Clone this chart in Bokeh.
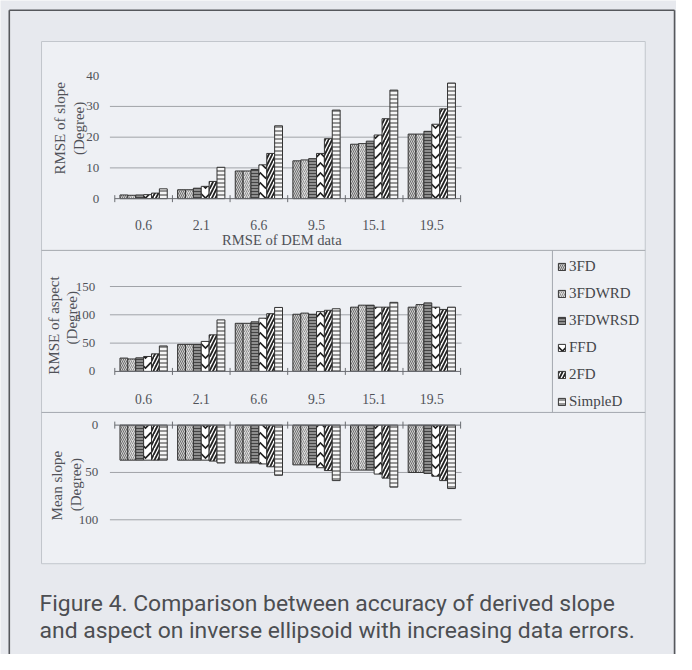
from math import pi
from bokeh.plotting import figure
from bokeh.models import Range1d, ColumnDataSource, Legend, LegendItem
from bokeh.transform import dodge
from bokeh.core.properties import value
from bokeh.embed import file_html
from bokeh.resources import INLINE

# ---------------- data ----------------
categories = ["0.6", "2.1", "6.6", "9.5", "15.1", "19.5"]
methods = ["3FD", "3FDWRD", "3FDWRSD", "FFD", "2FD", "SimpleD"]

slope_3fd = [1.2, 2.9, 9.0, 12.3, 17.7, 21.0]
slope_3fdwrd = [1.1, 2.9, 9.0, 12.6, 17.9, 21.0]
slope_3fdwrsd = [1.2, 3.4, 9.5, 13.0, 18.7, 21.9]
slope_ffd = [1.3, 4.0, 11.0, 14.7, 20.7, 24.2]
slope_2fd = [1.8, 5.6, 14.7, 19.5, 26.0, 29.2]
slope_simpled = [3.2, 10.2, 23.7, 28.8, 35.3, 37.6]

aspect_3fd = [23.6, 47.8, 85, 101, 113.5, 113.5]
aspect_3fdwrd = [22, 47.8, 85, 103, 117, 118]
aspect_3fdwrsd = [24, 47.8, 87.6, 101, 117, 121]
aspect_ffd = [26.4, 53, 94, 105.6, 113.5, 113.5]
aspect_2fd = [31, 64.6, 102, 108, 113.5, 109.5]
aspect_simpled = [45, 91, 113, 110.7, 122, 113.5]

mean_3fd = [37, 37, 40, 42, 47.5, 50]
mean_3fdwrd = [37, 37, 40, 42, 47.5, 50]
mean_3fdwrsd = [37, 37, 40, 42, 47.5, 51]
mean_ffd = [37, 37, 41, 45, 51.7, 54]
mean_2fd = [37, 38, 44, 48, 56, 58.6]
mean_simpled = [37, 40, 53, 58.6, 65.5, 67]

slope_ticks = [0, 10, 20, 30, 40]
aspect_ticks = [0, 50, 100, 150]
mean_ticks = [0, 50, 100]

slope_series = [slope_3fd, slope_3fdwrd, slope_3fdwrsd, slope_ffd, slope_2fd, slope_simpled]
aspect_series = [aspect_3fd, aspect_3fdwrd, aspect_3fdwrsd, aspect_ffd, aspect_2fd, aspect_simpled]
mean_series = [mean_3fd, mean_3fdwrd, mean_3fdwrsd, mean_ffd, mean_2fd, mean_simpled]

caption1 = "Figure 4. Comparison between accuracy of derived slope"
caption2 = "and aspect on inverse ellipsoid with increasing data errors."

# ---------------- layout / style ----------------
W, H = 676, 654            # canvas size in screen px
RW, RH = 692, 670          # layout coordinate space
S = W / RW
PAGE_BG = "#e7e9ee"
INNER_BG = "#eef0f4"
TXT = "#505258"
SERIF = value("Liberation Serif")

styles = [
    dict(fill_color="#cfcfcf", hatch_pattern="\\", hatch_color="#555555", hatch_scale=4, hatch_weight=0.8),
    dict(fill_color="#dddddd", hatch_pattern="/", hatch_color="#7a7a7a", hatch_scale=4, hatch_weight=0.8),
    dict(fill_color="#8e8e8e", hatch_pattern="-", hatch_color="#444444", hatch_scale=3, hatch_weight=1),
    dict(fill_color="#ffffff", hatch_pattern="v", hatch_color="#222222", hatch_scale=10, hatch_weight=1.6),
    dict(fill_color="#ffffff", hatch_pattern="/", hatch_color="#222222", hatch_scale=7, hatch_weight=1.8),
    dict(fill_color="#f6f6f6", hatch_pattern="-", hatch_color="#333333", hatch_scale=4, hatch_weight=1),
]

p = figure(width=W, height=H, x_range=Range1d(0, RW), y_range=Range1d(RH, 0),
           output_backend="svg", toolbar_location=None, min_border=0,
           x_axis_location=None, y_axis_location=None, title=None,
           background_fill_color=PAGE_BG, border_fill_color=PAGE_BG, outline_line_color=None)
p.grid.visible = False

# category scale shared by the three charts
X_L, X_R = 117, 471
u = (X_R - X_L) / len(categories)
cx0 = -0.5 - X_L / u
p.extra_x_ranges = {"cx": Range1d(cx0, cx0 + RW / u)}


def y_range(v0, px0, v1, px1):
    k = (px1 - px0) / (v1 - v0)
    at = lambda py: v0 + (py - px0) / k
    return Range1d(at(RH), at(0))


p.extra_y_ranges = {
    "ys": y_range(0, 203, 40, 77),
    "ya": y_range(0, 380, 150, 293),
    "ym": y_range(0, 435, 100, 532),
}

# frame and panels
p.segment(x0=[9, 9, 690], y0=[670, 10, 10], x1=[9, 690, 690], y1=[10, 10, 670],
          line_color="#56585c", line_width=1.6)
p.quad(left=42, right=660, top=42, bottom=577, fill_color=INNER_BG, line_color="#c2c6cc", line_width=1)
p.segment(x0=[42, 42, 565], y0=[256, 422, 256], x1=[660, 660, 565], y1=[256, 422, 422],
          line_color="#a4a8ae", line_width=1)

idx = list(range(len(categories)))
bw = 0.82 / len(methods)
bounds = [i - 0.5 for i in range(len(categories) + 1)]


def chart(series, yname, ticks, grid_ticks, label_y, tick_x):
    p.segment(x0=[112] * len(grid_ticks), x1=[472] * len(grid_ticks), y0=grid_ticks, y1=grid_ticks,
              y_range_name=yname, line_color="#a0a3a8", line_width=1)
    rends = []
    for i, (vals, st) in enumerate(zip(series, styles)):
        src = ColumnDataSource(dict(idx=idx, val=vals))
        r = p.vbar(x=dodge("idx", (i - 2.5) * bw), top="val", bottom=0, width=bw, source=src,
                   x_range_name="cx", y_range_name=yname, line_color="#333333", line_width=1, **st)
        rends.append(r)
    p.segment(x0=[-0.5], x1=[5.5], y0=[0], y1=[0], x_range_name="cx", y_range_name=yname,
              line_color="#6a6d72", line_width=1)
    p.scatter(x=bounds, y=[0] * len(bounds), marker="dash", angle=pi / 2, size=7,
              line_color="#6a6d72", x_range_name="cx", y_range_name=yname)
    p.text(x=[tick_x] * len(ticks), y=ticks, text=[str(t) for t in ticks], y_range_name=yname,
           text_align="right", text_baseline="middle", text_font=SERIF, text_font_size="13px",
           text_color=TXT)
    if label_y is not None:
        p.text(x=idx, y=[label_y] * len(idx), text=categories, x_range_name="cx",
               text_align="center", text_baseline="middle", text_font=SERIF,
               text_font_size="13.7px", text_color=TXT)
    return rends


rends = chart(slope_series, "ys", slope_ticks, [10, 20, 30], 230, 101)
chart(aspect_series, "ya", aspect_ticks, [50, 100, 150], 408, 97)
chart(mean_series, "ym", mean_ticks, [50, 100], None, 100)

# axis titles
p.text(x=[288], y=[245], text=["RMSE of DEM data"], text_align="center", text_baseline="middle",
       text_font=SERIF, text_font_size="14.6px", text_color=TXT)
titles = [
    (61, 131, "RMSE of slope"), (80, 131, "(Degree)"),
    (55, 333, "RMSE of aspect"), (73, 325, "(Degree)"),
    (58, 497, "Mean slope"), (77, 496, "(Degree)"),
]
p.text(x=[t[0] for t in titles], y=[t[1] for t in titles], text=[t[2] for t in titles],
       angle=pi / 2, text_align="center", text_baseline="middle", text_font=SERIF,
       text_font_size="15px", text_color=TXT)

# legend (location in screen px from the frame's bottom-left corner)
LH, SP = 17, 10
first_row = 273 * S
leg_bottom = first_row - LH / 2 + 6 * LH + 5 * SP
legend = Legend(items=[LegendItem(label=m, renderers=[r]) for m, r in zip(methods, rends)],
                location=(round(570 * S), round(H - leg_bottom)), orientation="vertical",
                glyph_width=9, glyph_height=9, label_height=LH, label_standoff=3, spacing=SP,
                padding=0, margin=0, background_fill_alpha=0, border_line_color=None,
                label_text_font="Liberation Serif", label_text_font_size="15px",
                label_text_color="#44464a")
p.add_layout(legend, "center")

# caption
p.text(x=[40, 40], y=[618, 645], text=[caption1, caption2], text_align="left",
       text_baseline="alphabetic", text_font=value("Roboto"), text_font_size="22.9px",
       text_color="#4c4e52")

open("out.html", "w").write(file_html(p, INLINE))
